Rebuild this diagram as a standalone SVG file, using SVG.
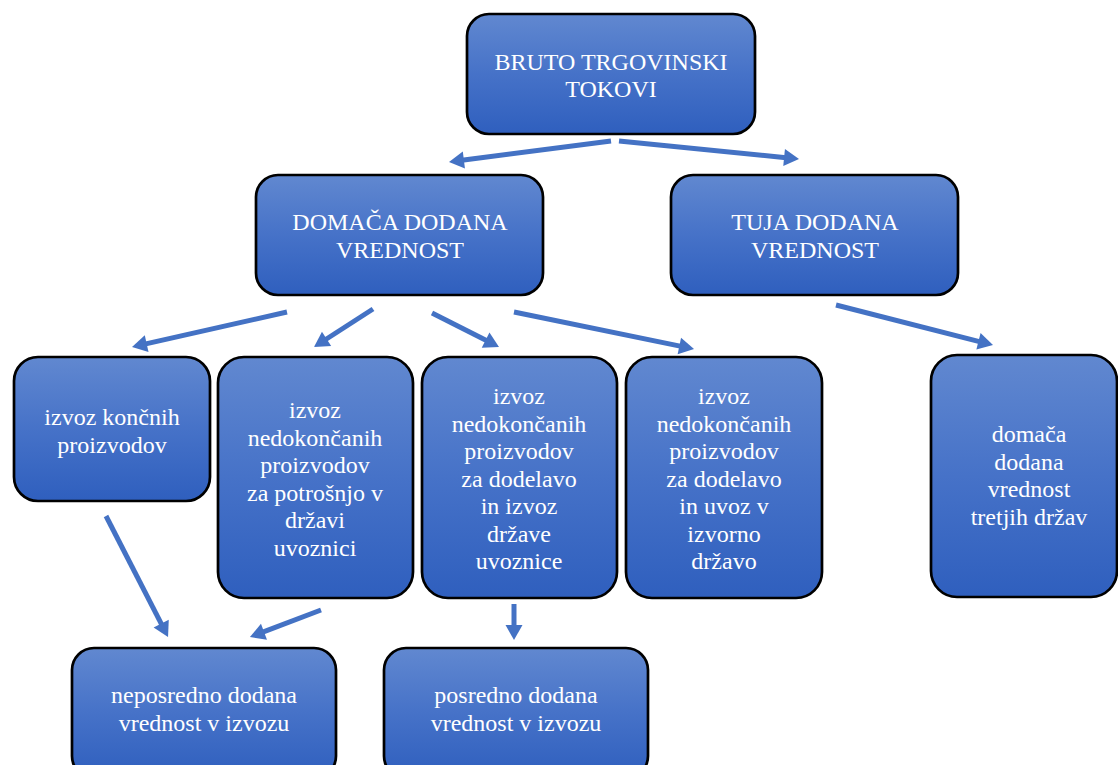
<svg xmlns="http://www.w3.org/2000/svg" width="1118" height="765" viewBox="0 0 1118 765">
  <style>
    .box { fill: url(#boxFill); stroke: #000; stroke-width: 2.7; }
    .lbl { font-family: "Liberation Serif", "Times New Roman", serif; font-size: 24px; fill: #fff; text-anchor: middle; }
    .link { stroke: #4472C4; stroke-width: 5; fill: none; marker-end: url(#head); }
  </style>
  <defs>
    <linearGradient id="boxFill" x1="0" y1="0" x2="0" y2="1">
      <stop offset="0" stop-color="#6188D0"/>
      <stop offset="0.5" stop-color="#4672C8"/>
      <stop offset="1" stop-color="#2F5FBE"/>
    </linearGradient>
    <marker id="head" markerUnits="userSpaceOnUse" markerWidth="16" markerHeight="17" viewBox="0 0 16 17" refX="2" refY="8.5" orient="auto" overflow="visible">
      <path d="M0,0 L15,8.5 L0,17 z" fill="#4472C4"/>
    </marker>
  </defs>

  <!-- connectors -->
  <g id="connectors">
    <line class="link" x1="611" y1="141" x2="461.9" y2="160.3"/>
    <line class="link" x1="619" y1="141" x2="786.1" y2="157.7"/>
    <line class="link" x1="287" y1="312" x2="144.7" y2="344.1"/>
    <line class="link" x1="373" y1="309" x2="324.9" y2="340"/>
    <line class="link" x1="432" y1="313" x2="487.4" y2="341.1"/>
    <line class="link" x1="514" y1="312" x2="681.3" y2="346.4"/>
    <line class="link" x1="836" y1="305" x2="980.4" y2="341.8"/>
    <line class="link" x1="106" y1="516" x2="162.1" y2="625.4"/>
    <line class="link" x1="321" y1="610" x2="262.1" y2="632.4"/>
    <line class="link" x1="514" y1="604" x2="514" y2="627"/>
  </g>

  <!-- top -->
  <g id="bruto">
    <rect class="box" x="467" y="14" width="288" height="120" rx="22"/>
    <text class="lbl" x="611" y="70">BRUTO TRGOVINSKI</text>
    <text class="lbl" x="611" y="97">TOKOVI</text>
  </g>

  <!-- second level -->
  <g id="domaca">
    <rect class="box" x="256" y="175" width="287" height="120" rx="22"/>
    <text class="lbl" x="400" y="230">DOMAČA DODANA</text>
    <text class="lbl" x="400" y="258">VREDNOST</text>
  </g>
  <g id="tuja">
    <rect class="box" x="671" y="175" width="287" height="120" rx="22"/>
    <text class="lbl" x="815" y="230">TUJA DODANA</text>
    <text class="lbl" x="815" y="258">VREDNOST</text>
  </g>

  <!-- third level -->
  <g id="koncni">
    <rect class="box" x="14" y="357" width="196" height="144" rx="24"/>
    <text class="lbl" x="112" y="425">izvoz končnih</text>
    <text class="lbl" x="112" y="453">proizvodov</text>
  </g>
  <g id="potrosnja">
    <rect class="box" x="218" y="357" width="195" height="241" rx="26"/>
    <text class="lbl" x="315" y="418">izvoz</text>
    <text class="lbl" x="315" y="445.5">nedokončanih</text>
    <text class="lbl" x="315" y="473">proizvodov</text>
    <text class="lbl" x="315" y="500.5">za potrošnjo v</text>
    <text class="lbl" x="315" y="528">državi</text>
    <text class="lbl" x="315" y="555.5">uvoznici</text>
  </g>
  <g id="dodelava-izvoz">
    <rect class="box" x="422" y="357" width="195" height="241" rx="26"/>
    <text class="lbl" x="519" y="404">izvoz</text>
    <text class="lbl" x="519" y="431.5">nedokončanih</text>
    <text class="lbl" x="519" y="459">proizvodov</text>
    <text class="lbl" x="519" y="486.5">za dodelavo</text>
    <text class="lbl" x="519" y="514">in izvoz</text>
    <text class="lbl" x="519" y="541.5">države</text>
    <text class="lbl" x="519" y="569">uvoznice</text>
  </g>
  <g id="dodelava-uvoz">
    <rect class="box" x="626" y="357" width="196" height="241" rx="26"/>
    <text class="lbl" x="724" y="404">izvoz</text>
    <text class="lbl" x="724" y="431.5">nedokončanih</text>
    <text class="lbl" x="724" y="459">proizvodov</text>
    <text class="lbl" x="724" y="486.5">za dodelavo</text>
    <text class="lbl" x="724" y="514">in uvoz v</text>
    <text class="lbl" x="724" y="541.5">izvorno</text>
    <text class="lbl" x="724" y="569">državo</text>
  </g>
  <g id="tretje">
    <rect class="box" x="931" y="355" width="186" height="242" rx="26"/>
    <text class="lbl" x="1029" y="442">domača</text>
    <text class="lbl" x="1029" y="469.5">dodana</text>
    <text class="lbl" x="1029" y="497">vrednost</text>
    <text class="lbl" x="1029" y="524.5">tretjih držav</text>
  </g>

  <!-- bottom level -->
  <g id="neposredno">
    <rect class="box" x="72" y="648" width="264" height="130" rx="22"/>
    <text class="lbl" x="204" y="703">neposredno dodana</text>
    <text class="lbl" x="204" y="731">vrednost v izvozu</text>
  </g>
  <g id="posredno">
    <rect class="box" x="384" y="648" width="264" height="130" rx="22"/>
    <text class="lbl" x="516" y="703">posredno dodana</text>
    <text class="lbl" x="516" y="731">vrednost v izvozu</text>
  </g>
</svg>
